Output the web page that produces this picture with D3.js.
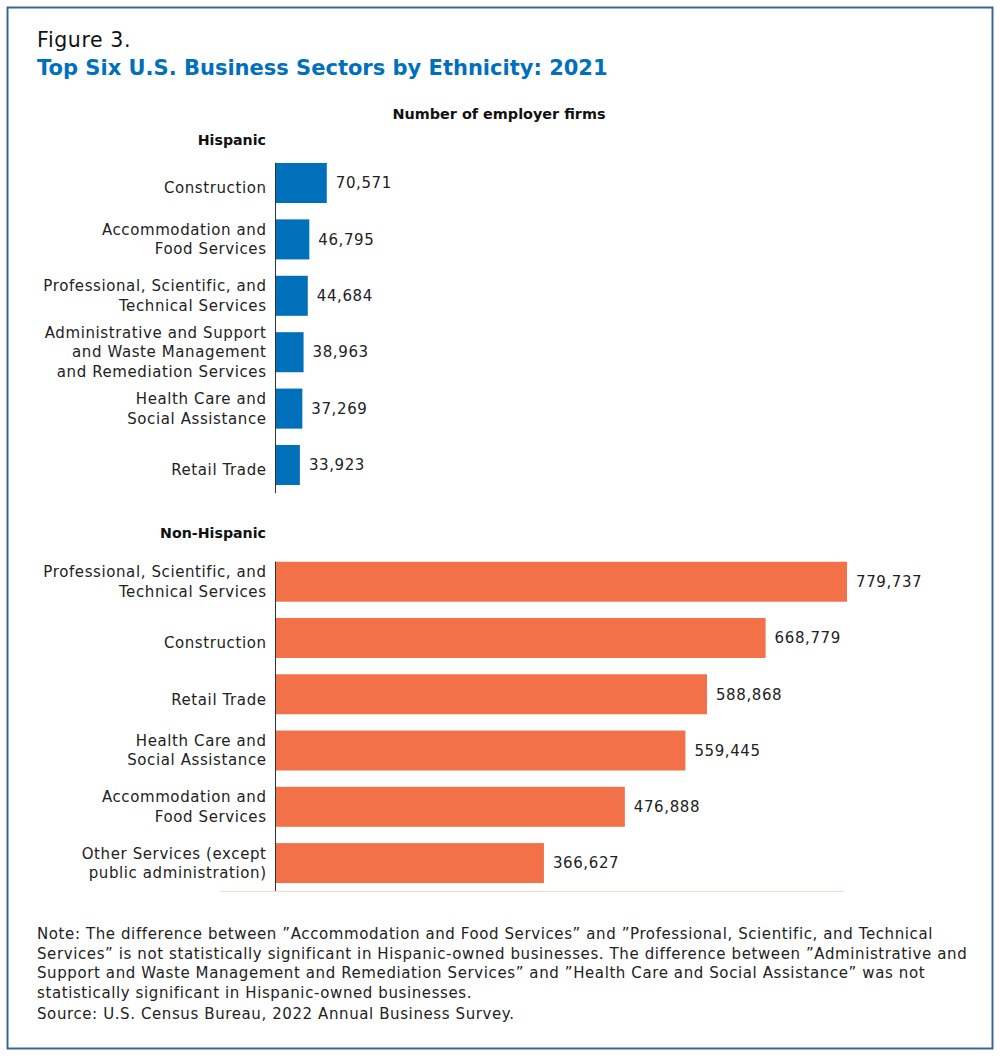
<!DOCTYPE html>
<html><head><meta charset="utf-8">
<script src="https://cdn.jsdelivr.net/npm/d3@7"></script>
<style>
body{margin:0;background:#fff;}
svg{display:block;font-family:"DejaVu Sans",sans-serif;}
.reg{letter-spacing:0.6px;}
</style></head>
<body>
<script>
const hispanicSectors = [
  "Construction",
  "Accommodation and|Food Services",
  "Professional, Scientific, and|Technical Services",
  "Administrative and Support|and Waste Management|and Remediation Services",
  "Health Care and|Social Assistance",
  "Retail Trade"
];
const hispanicValues = [70571, 46795, 44684, 38963, 37269, 33923];
const nonHispanicSectors = [
  "Professional, Scientific, and|Technical Services",
  "Construction",
  "Retail Trade",
  "Health Care and|Social Assistance",
  "Accommodation and|Food Services",
  "Other Services (except|public administration)"
];
const nonHispanicValues = [779737, 668779, 588868, 559445, 476888, 366627];
const noteLines = [
  "Note: The difference between \u201DAccommodation and Food Services\u201D and \u201DProfessional, Scientific, and Technical",
  "Services\u201D is not statistically significant in Hispanic-owned businesses. The difference between \u201DAdministrative and",
  "Support and Waste Management and Remediation Services\u201D and \u201DHealth Care and Social Assistance\u201D was not",
  "statistically significant in Hispanic-owned businesses."
];
const sourceText = "Source: U.S. Census Bureau, 2022 Annual Business Survey.";

const W = 1000, H = 1056;
const svg = d3.select("body").append("svg").attr("width", W).attr("height", H);
svg.append("rect").attr("x", 7.5).attr("y", 7.5).attr("width", 985).attr("height", 1041)
  .attr("fill", "#fff").attr("stroke", "#3d6496").attr("stroke-width", 2);

svg.append("text").attr("x", 37).attr("y", 47).attr("font-size", 20.5).attr("class", "reg").attr("fill", "#111").text("Figure 3.");
svg.append("text").attr("x", 37).attr("y", 75).attr("font-size", 21).attr("font-weight", 700)
  .attr("fill", "#0070bd").text("Top Six U.S. Business Sectors by Ethnicity: 2021");

svg.append("text").attr("x", 499).attr("y", 118.5).attr("text-anchor", "middle").attr("font-size", 14.4)
  .attr("font-weight", 700).attr("fill", "#111").text("Number of employer firms");

const x = d3.scaleLinear().domain([0, 779737]).range([275, 847]);
const fmt = d3.format(",");

function panel(title, titleY, sectors, values, y0, y1, color) {
  const y = d3.scaleBand().domain(sectors).range([y0, y1]).paddingInner(0.29).paddingOuter(0.145);
  svg.append("text").attr("x", 266).attr("y", titleY).attr("text-anchor", "end").attr("font-size", 14.2)
    .attr("font-weight", 700).attr("fill", "#111").text(title);
  const g = svg.append("g");
  g.selectAll("rect").data(sectors).join("rect")
    .attr("x", x(0)).attr("y", d => y(d)).attr("height", y.bandwidth())
    .attr("width", (d, i) => x(values[i]) - x(0)).attr("fill", color);
  g.selectAll("text.val").data(sectors).join("text").attr("class", "val reg")
    .attr("x", (d, i) => x(values[i]) + 9).attr("y", d => y(d) + y.bandwidth() / 2)
    .attr("dy", "0.35em").attr("font-size", 15).attr("fill", "#222")
    .text((d, i) => fmt(values[i]));
  const lab = g.selectAll("text.lab").data(sectors).join("text").attr("class", "lab reg")
    .attr("text-anchor", "end").attr("font-size", 15).attr("fill", "#222");
  lab.each(function(d) {
    const lines = d.split("|");
    const cy = y(d) + y.bandwidth() / 2 + (lines.length === 1 ? 5 : 0);
    const lh = 19.3;
    d3.select(this).selectAll("tspan").data(lines).join("tspan")
      .attr("x", 266.6).attr("y", (l, j) => cy + (j - (lines.length - 1) / 2) * lh).attr("dy", "0.35em")
      .text(l => l);
  });
  svg.append("line").attr("x1", x(0) + 0.5).attr("x2", x(0) + 0.5).attr("y1", y0 + 8).attr("y2", y1)
    .attr("stroke", "#333").attr("stroke-width", 1);
}

panel("Hispanic", 145, hispanicSectors, hispanicValues, 154.8, 493.2, "#0070bb");
panel("Non-Hispanic", 538, nonHispanicSectors, nonHispanicValues, 553.6, 891.2, "#f37148");

svg.append("line").attr("x1", 220).attr("x2", 844).attr("y1", 891.5).attr("y2", 891.5)
  .attr("stroke", "#fbd7ca").attr("stroke-width", 1);

const nt = svg.append("g");
noteLines.forEach((l, i) => {
  nt.append("text").attr("x", 37).attr("y", 939 + i * 19.6).attr("class", "reg").attr("font-size", 15).attr("fill", "#222").text(l);
});
nt.append("text").attr("x", 37).attr("y", 1019).attr("class", "reg").attr("font-size", 15).attr("fill", "#222").text(sourceText);
</script>
</body></html>
